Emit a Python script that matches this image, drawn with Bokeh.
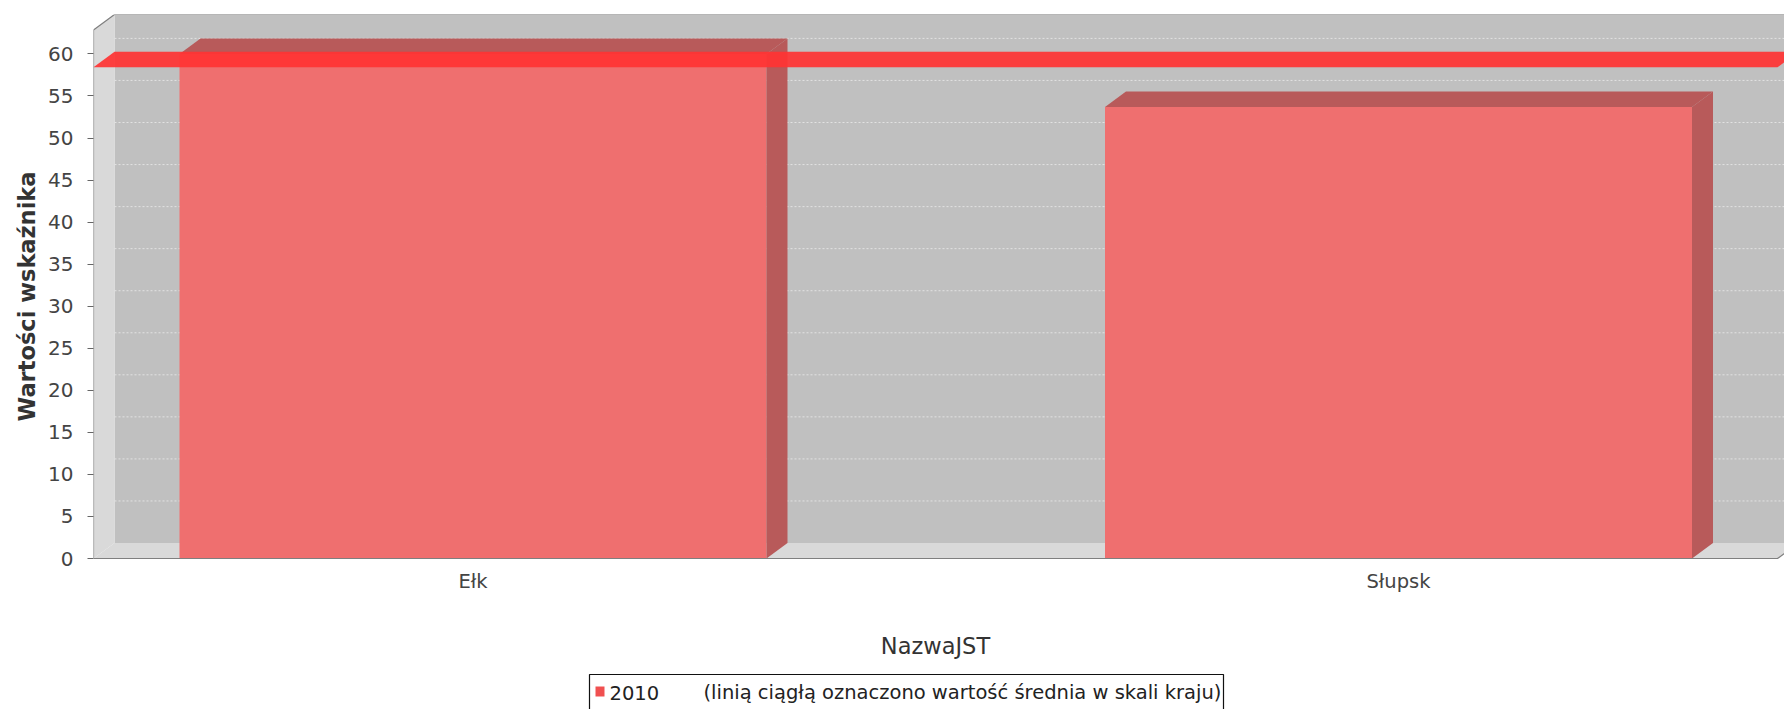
from bokeh.plotting import figure
from bokeh.models import Range1d, FixedTicker, Title
from bokeh.core.properties import value
from bokeh.embed import file_html
from bokeh.resources import INLINE

# ---------------- data ----------------
categories = ["Ełk", "Słupsk"]
values_2010 = [60.0, 53.7]
national_average = 58.4
series_name = "2010"
legend_note = "(linią ciągłą oznaczono wartość średnia w skali kraju)"
y_ticks = [0, 5, 10, 15, 20, 25, 30, 35, 40, 45, 50, 55, 60]
x_title = "NazwaJST"
y_title = "Wartości wskaźnika"

# ---------------- layout constants (screen pixels) ----------------
FL, FT = 93, 14             # frame left / top
FW, FH = 1691, 695          # frame size (extends to page bottom)
Y0_PX = 558                 # screen y of value 0 (front floor edge)
FRONT_R_PX = 1777           # screen x of front-right plot edge
px_per_cat = 925.5          # pixels per category step
px_per_unit = 8.41          # pixels per value unit
CAT0_PX = 472.5             # screen x of first category centre


def dx(sx):
    return (sx - CAT0_PX) / px_per_cat


def dy(sy):
    return (Y0_PX - sy) / px_per_unit


XL = dx(FL)
XR = dx(FRONT_R_PX)
DX = 21 / px_per_cat        # 3D depth offset (x)
DY = 15.5 / px_per_unit     # 3D depth offset (y)
Y_END = dy(FT)
YMAX = Y_END - DY
HALF = 293.5 / px_per_cat

p = figure(frame_width=FW, frame_height=FH,
           output_backend="svg", toolbar_location=None,
           x_axis_location=None,
           x_range=Range1d(dx(FL), dx(FL + FW)),
           y_range=Range1d(dy(FT + FH), Y_END),
           min_border_left=FL, min_border_right=0, min_border_top=FT,
           min_border_bottom=0)
p.outline_line_color = None
p.background_fill_color = "white"
p.border_fill_color = "white"
p.xgrid.visible = False
p.ygrid.visible = False

WALL = "#c0c0c0"
SIDE = "#d9d9d9"
OUTLINE = "#7f7f7f"
FRONT = "#ef6f6f"
DARK = "#b85a5a"
MARK = "#ff3333"

# back wall, left wall, floor
p.quad(left=XL + DX, right=XR + DX, bottom=DY, top=YMAX + DY,
       fill_color=WALL, line_color=None)
p.patch(x=[XL, XL, XL + DX, XL + DX], y=[0, YMAX, YMAX + DY, DY],
        fill_color=SIDE, line_color=None)
p.patch(x=[XL, XR, XR + DX, XL + DX], y=[0, 0, DY, DY],
        fill_color=SIDE, line_color=None)

# gridlines on back wall
gy = [t + DY for t in y_ticks[1:]]
p.segment(x0=[XL + DX] * len(gy), x1=[XR + DX] * len(gy), y0=gy, y1=gy,
          line_color="#e2e2e2", line_width=1, line_dash="2 2")

# bars
pos = list(range(len(categories)))
lefts = [i - HALF for i in pos]
rights = [i + HALF for i in pos]
p.quad(left=lefts, right=rights, bottom=[0] * len(pos), top=values_2010,
       fill_color=FRONT, line_color=None)
top_xs = [[l, r, r + DX, l + DX] for l, r in zip(lefts, rights)]
top_ys = [[v, v, v + DY, v + DY] for v in values_2010]
p.patches(xs=top_xs, ys=top_ys, fill_color=DARK, line_color=None)
side_xs = [[r, r, r + DX, r + DX] for r in rights]
side_ys = [[0, v, v + DY, DY] for v in values_2010]
p.patches(xs=side_xs, ys=side_ys, fill_color=DARK, line_color=None)

# national average marker (3D band)
a = national_average
p.patch(x=[XL, XR, XR + DX, XL + DX], y=[a, a, a + DY, a + DY],
        fill_color=MARK, fill_alpha=0.92, line_color=None)

# plot outline
p.line(x=[XL, XL, XL + DX, XR + DX + 0.05], y=[0, YMAX, YMAX + DY, YMAX + DY],
       line_color=OUTLINE, line_width=1.2)
p.line(x=[XL, XR, XR + DX], y=[0, 0, DY], line_color=OUTLINE, line_width=1.2)

# category labels and x title
p.text(x=pos, y=[0] * len(pos), text=categories, y_offset=11,
       text_align="center", text_baseline="top",
       text_font=value("DejaVu Sans"), text_font_size="19.5px",
       text_color="#444444")
p.text(x=[(XL + XR) / 2], y=[dy(645)], text=[x_title],
       text_align="center", text_baseline="middle",
       text_font=value("DejaVu Sans"), text_font_size="22.5px",
       text_color="#333333")

# legend (box, swatch, texts)
p.quad(left=[dx(589)], right=[dx(1223)], top=[dy(674)], bottom=[dy(711)],
       fill_color="white", line_color="#111111", line_width=1.2)
p.quad(left=[dx(595)], right=[dx(604)], top=[dy(686)], bottom=[dy(696)],
       fill_color="#f05050", line_color=None)
p.text(x=[dx(609)], y=[dy(692)], text=[series_name],
       text_align="left", text_baseline="middle",
       text_font=value("DejaVu Sans"), text_font_size="19.5px",
       text_color="#222222")
p.text(x=[dx(703)], y=[dy(692)], text=[legend_note],
       text_align="left", text_baseline="middle",
       text_font=value("DejaVu Sans"), text_font_size="19.5px",
       text_color="#222222")

# y axis
ya = p.yaxis[0]
ya.ticker = FixedTicker(ticks=y_ticks)
ya.axis_line_color = None
ya.major_tick_in = 0
ya.major_tick_out = 6
ya.major_tick_line_color = "#666666"
ya.minor_tick_line_color = None
ya.major_label_standoff = 14
ya.major_label_text_font = "DejaVu Sans"
ya.major_label_text_font_size = "20px"
ya.major_label_text_color = "#444444"

p.add_layout(Title(text=y_title, align="right", offset=157,
                   text_font="DejaVu Sans", text_font_style="bold",
                   text_font_size="22.5px", text_color="#333333",
                   standoff=12), "left")

open("out.html", "w").write(file_html(p, INLINE))
